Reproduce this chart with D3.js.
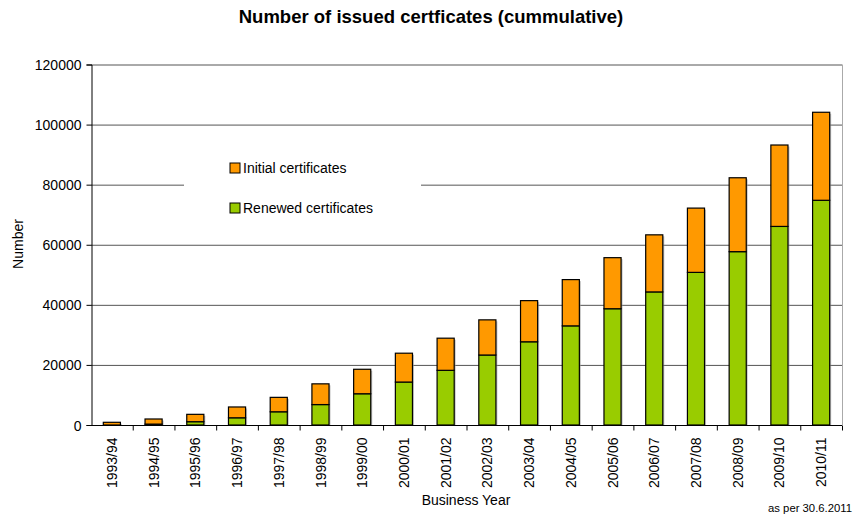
<!DOCTYPE html>
<html>
<head>
<meta charset="utf-8">
<script src="https://cdn.jsdelivr.net/npm/d3@7"></script>
<style>
  body { margin: 0; background: #fff; }
  text { font-family: "Liberation Sans", Arial, sans-serif; fill: #000; }
</style>
</head>
<body>
<svg id="chart" width="854" height="514"></svg>
<script>
const years = ["1993/94", "1994/95", "1995/96", "1996/97", "1997/98", "1998/99", "1999/00",
  "2000/01", "2001/02", "2002/03", "2003/04", "2004/05", "2005/06", "2006/07", "2007/08",
  "2008/09", "2009/10", "2010/11"];
const renewed = [0, 300, 1100, 2400, 4400, 6800, 10400, 14300, 18200, 23300, 27700, 33000,
  38700, 44300, 50800, 57700, 66100, 74800];
const initial = [900, 1700, 2450, 3600, 4800, 6900, 8150, 9600, 10700, 11700, 13700, 15400,
  17000, 19000, 21400, 24600, 27100, 29300];
const yTicks = [0, 20000, 40000, 60000, 80000, 100000, 120000];
const seriesNames = ["Initial certificates", "Renewed certificates"];
const colors = { renewed: "#99cc00", initial: "#ff9900" };

const svg = d3.select("#chart");
const m = { left: 91, right: 842, top: 64.5, bottom: 425 };

const x = d3.scaleBand().domain(years).range([m.left, m.right]).paddingInner(0.59).paddingOuter(0.295);
const xb = d3.scaleBand().domain(years).range([m.left, m.right]); // for tick positions
const y = d3.scaleLinear().domain([0, 120000]).range([m.bottom, m.top]);

// gridlines
svg.append("g").selectAll("line").data(yTicks.slice(1)).enter().append("line")
  .attr("x1", m.left).attr("x2", m.right)
  .attr("y1", d => y(d) + 0.5).attr("y2", d => y(d) + 0.5)
  .attr("stroke", "#555").attr("stroke-width", 1);
svg.append("line").attr("x1", m.right + 0.5).attr("x2", m.right + 0.5)
  .attr("y1", m.top).attr("y2", m.bottom).attr("stroke", "#aaa");

// stacked bars
const table = years.map((yr, i) => ({ year: yr, renewed: renewed[i], initial: initial[i] }));
const stack = d3.stack().keys(["renewed", "initial"])(table);

const bars = svg.append("g");
// soft shadow
bars.selectAll("rect.shadow").data(table).enter().append("rect")
  .attr("x", d => x(d.year) + 1.5).attr("width", x.bandwidth())
  .attr("y", d => y(d.renewed + d.initial) + 1.5)
  .attr("height", d => m.bottom - y(d.renewed + d.initial) - 1.5)
  .attr("fill", "#999").attr("opacity", 0.6);

stack.forEach(layer => {
  bars.selectAll("rect." + layer.key).data(layer).enter().append("rect")
    .attr("x", d => x(d.data.year))
    .attr("width", x.bandwidth())
    .attr("y", d => y(d[1]))
    .attr("height", d => y(d[0]) - y(d[1]))
    .attr("fill", colors[layer.key])
    .attr("stroke", "#000").attr("stroke-width", 1.2);
});

// y axis
const yAxis = d3.axisLeft(y).tickValues(yTicks).tickSize(5).tickPadding(5).tickFormat(d3.format("d"));
const gy = svg.append("g").attr("transform", `translate(${m.left + 0.5},0)`).call(yAxis);
gy.selectAll("text").style("font-size", "14px").attr("dy", "0.36em");
gy.selectAll("line, path").attr("stroke", "#000");

// x axis
const gx = svg.append("g").attr("transform", `translate(0,${m.bottom + 0.5})`);
gx.append("line").attr("x1", m.left).attr("x2", m.right).attr("stroke", "#000");
gx.selectAll("line.tick").data(years).enter().append("line")
  .attr("x1", d => xb(d) + xb.bandwidth() + 0.5).attr("x2", d => xb(d) + xb.bandwidth() + 0.5)
  .attr("y1", 0).attr("y2", 5).attr("stroke", "#000");
gx.selectAll("text").data(years).enter().append("text")
  .attr("transform", d => `translate(${xb(d) + xb.bandwidth() / 2},12) rotate(-90)`)
  .attr("text-anchor", "end").attr("dy", "0.36em")
  .style("font-size", "14px").text(d => d);

// legend
const lg = svg.append("g");
lg.append("rect").attr("x", 184).attr("y", 145).attr("width", 237).attr("height", 85).attr("fill", "#fff");
const items = lg.selectAll("g").data(seriesNames).enter().append("g")
  .attr("transform", (d, i) => `translate(230,${163 + i * 40})`);
items.append("rect").attr("width", 10).attr("height", 10)
  .attr("fill", (d, i) => i === 0 ? colors.initial : colors.renewed)
  .attr("stroke", "#000").attr("stroke-width", 1);
items.append("text").attr("x", 13).attr("y", 10).style("font-size", "14px").text(d => d);

// titles
svg.append("text").attr("x", 431).attr("y", 23).attr("text-anchor", "middle")
  .style("font-size", "18.5px").style("font-weight", "bold")
  .text("Number of issued certficates (cummulative)");
svg.append("text").attr("transform", "translate(23,244) rotate(-90)").attr("text-anchor", "middle")
  .style("font-size", "14px").text("Number");
svg.append("text").attr("x", 466).attr("y", 505).attr("text-anchor", "middle")
  .style("font-size", "14px").text("Business Year");
svg.append("text").attr("x", 852).attr("y", 512).attr("text-anchor", "end")
  .style("font-size", "11.3px").text("as per 30.6.2011");
</script>
</body>
</html>
